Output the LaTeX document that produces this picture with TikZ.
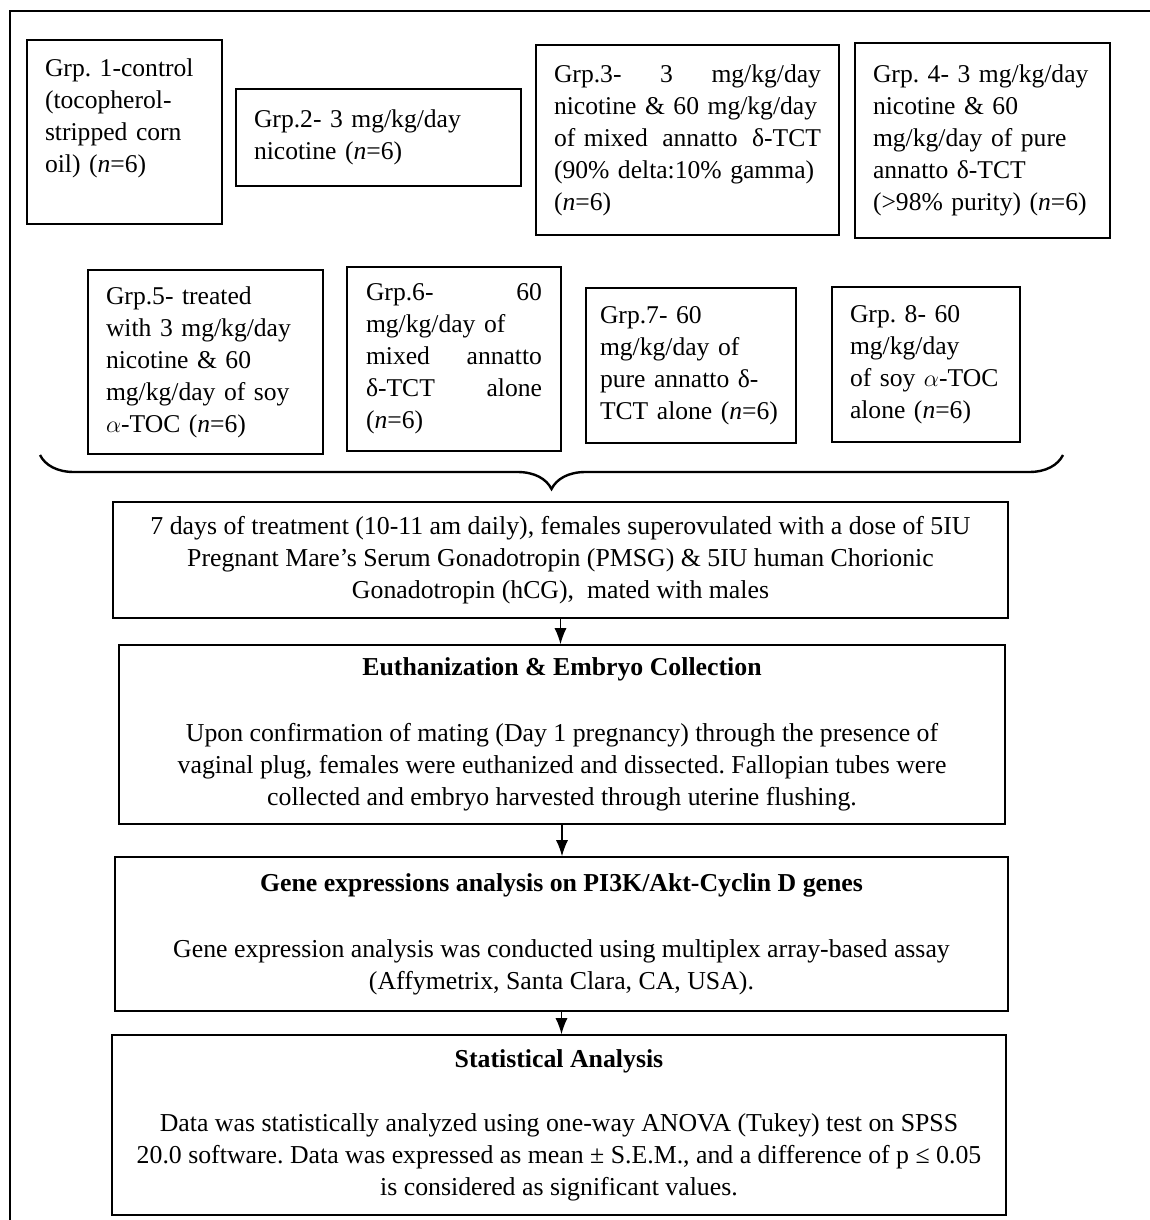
\documentclass[tikz,border=0pt]{standalone}
\usepackage{fontspec}
\setmainfont{Liberation Serif}
\usetikzlibrary{arrows.meta,decorations.pathreplacing}
\frenchspacing

\begin{document}
\begin{tikzpicture}[x=0.5pt,y=-0.5pt,
  grp/.style={draw,thick,align=left,inner xsep=9pt,inner ysep=0pt,font=\fontsize{12.8}{16}\selectfont},
  stage/.style={draw,thick,align=center,inner sep=0pt,font=\fontsize{12.9}{16}\selectfont},
  arr/.style={line width=0.6pt,-{Latex[length=8pt,width=6pt]}}]

\useasboundingbox (0,0) rectangle (1150,1220);
\draw[line width=0.75pt] (1150,11) -- (10,11) -- (10,1220);

% treatment groups, first row
\node[grp,text width=79.5pt,minimum height=92pt] (g1) at (124.5,132)
  {Grp. 1-control\\(tocopherol-\\stripped corn\\oil) (\textit{n}=6)\\\mbox{}};
\node[grp,text width=124.5pt,minimum height=48.5pt] (g2) at (378.5,137.5)
  {Grp.2- 3 mg/kg/day\\nicotine (\textit{n}=6)};
\node[grp,text width=133.5pt,minimum height=95pt] (g3) at (687.5,140)
  {Grp.3-\hfill 3\hfill mg/kg/day\\nicotine \& 60 mg/kg/day\\of mixed\hfill annatto\hfill δ-TCT\\(90\% delta:10\% gamma)\\(\textit{n}=6)};
\node[grp,text width=109.5pt,minimum height=97.5pt] (g4) at (982.5,140.5)
  {Grp. 4- 3 mg/kg/day\\nicotine \& 60\\mg/kg/day of pure\\annatto δ-TCT\\(>98\% purity) (\textit{n}=6)};

% second row
\node[grp,text width=99.5pt,minimum height=92pt] (g5) at (205.5,362)
  {Grp.5- treated\\with 3 mg/kg/day\\nicotine \& 60\\mg/kg/day of soy\\$\alpha$-TOC (\textit{n}=6)};
\node[grp,text width=88pt,minimum width=107pt,minimum height=92pt] (g6) at (454,359)
  {Grp.6-\hfill 60\\mg/kg/day of\\mixed\hfill annatto\\δ-TCT\hfill alone\\(\textit{n}=6)};
\node[grp,inner xsep=7pt,text width=91pt,minimum height=77.5pt] (g7) at (691,365.5)
  {Grp.7- 60\\mg/kg/day of\\pure annatto δ-\\TCT alone (\textit{n}=6)};
\node[grp,text width=76pt,minimum height=77.5pt] (g8) at (926,364.5)
  {Grp. 8- 60\\mg/kg/day\\of soy $\alpha$-TOC\\alone (\textit{n}=6)};

\draw[line width=1.2pt,decorate,decoration={brace,mirror,amplitude=17pt}] (40,455) -- (1063,455);

% procedure
\node[stage,minimum width=447.5pt,minimum height=58pt] (treat) at (560.5,560)
  {7 days of treatment (10-11 am daily), females superovulated with a dose of 5IU\\Pregnant Mare’s Serum Gonadotropin (PMSG) \& 5IU human Chorionic\\Gonadotropin (hCG),\ \ mated with males};
\node[stage,minimum width=443pt,minimum height=89.5pt] (euth) at (562,734.5)
  {\textbf{Euthanization \& Embryo Collection}\\[17pt]Upon confirmation of mating (Day 1 pregnancy) through the presence of\\vaginal plug, females were euthanized and dissected. Fallopian tubes were\\collected and embryo harvested through uterine flushing.};
\node[stage,minimum width=446.5pt,minimum height=77pt] (gene) at (561.5,934)
  {\textbf{Gene expressions analysis on PI3K/Akt-Cyclin D genes}\\[17pt]Gene expression analysis was conducted using multiplex array-based assay\\(Affymetrix, Santa Clara, CA, USA).};
\node[stage,minimum width=447pt,minimum height=90pt] (stats) at (559,1125)
  {\textbf{Statistical Analysis}\\[16pt]Data was statistically analyzed using one-way ANOVA (Tukey) test on SPSS\\20.0 software. Data was expressed as mean ± S.E.M., and a difference of p ≤ 0.05\\is considered as significant values.};

\draw[arr] (treat) -- (treat |- euth.north);
\draw[arr] (euth) -- (euth |- gene.north);
\draw[arr] (gene) -- (gene |- stats.north);
\end{tikzpicture}
\end{document}
